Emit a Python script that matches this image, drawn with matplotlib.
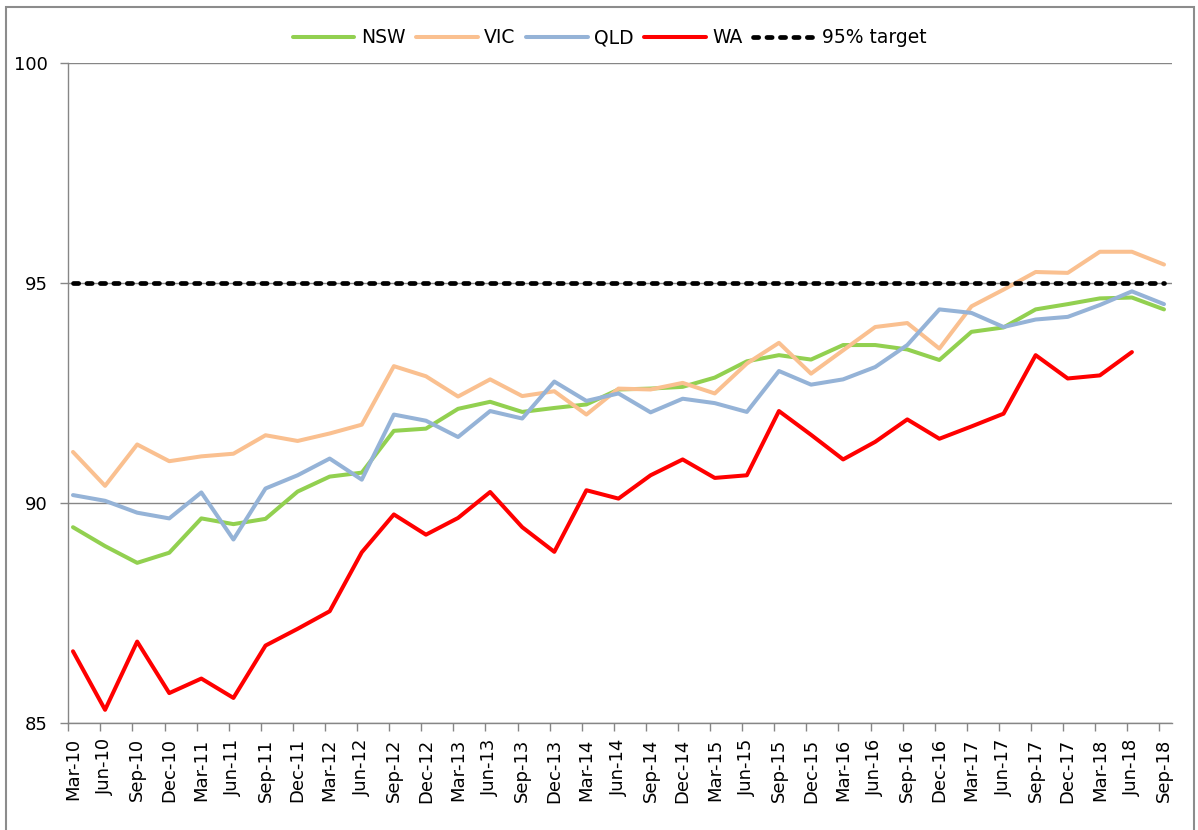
import numpy as np
import matplotlib
matplotlib.use("Agg")
import matplotlib.pyplot as plt
from matplotlib.patches import Rectangle

quarters = ["Mar-10", "Jun-10", "Sep-10", "Dec-10", "Mar-11", "Jun-11", "Sep-11", "Dec-11",
            "Mar-12", "Jun-12", "Sep-12", "Dec-12", "Mar-13", "Jun-13", "Sep-13", "Dec-13",
            "Mar-14", "Jun-14", "Sep-14", "Dec-14", "Mar-15", "Jun-15", "Sep-15", "Dec-15",
            "Mar-16", "Jun-16", "Sep-16", "Dec-16", "Mar-17", "Jun-17", "Sep-17", "Dec-17",
            "Mar-18", "Jun-18", "Sep-18"]

nsw = [89.45, 89.02, 88.64, 88.87, 89.65, 89.52, 89.64, 90.26, 90.60, 90.69, 91.64, 91.69,
       92.14, 92.30, 92.07, 92.16, 92.24, 92.58, 92.60, 92.64, 92.85, 93.22, 93.36, 93.26,
       93.59, 93.59, 93.49, 93.25, 93.89, 93.99, 94.40, 94.52, 94.65, 94.67, 94.40]
vic = [91.16, 90.39, 91.33, 90.95, 91.06, 91.12, 91.54, 91.41, 91.58, 91.78, 93.11, 92.88,
       92.42, 92.81, 92.43, 92.54, 92.01, 92.60, 92.58, 92.73, 92.49, 93.17, 93.64, 92.94,
       93.47, 94.00, 94.09, 93.51, 94.47, 94.85, 95.25, 95.23, 95.71, 95.71, 95.42]
qld = [90.18, 90.05, 89.78, 89.65, 90.24, 89.17, 90.33, 90.63, 91.01, 90.53, 92.01, 91.87,
       91.50, 92.09, 91.92, 92.76, 92.32, 92.49, 92.06, 92.37, 92.27, 92.07, 93.00, 92.69,
       92.81, 93.09, 93.59, 94.40, 94.32, 94.00, 94.17, 94.23, 94.50, 94.81, 94.52]
wa = [86.63, 85.30, 86.85, 85.68, 86.01, 85.57, 86.76, 87.14, 87.54, 88.88, 89.74, 89.28,
      89.66, 90.25, 89.45, 88.89, 90.29, 90.10, 90.63, 90.99, 90.57, 90.63, 92.09, 91.55,
      90.99, 91.39, 91.90, 91.46, 91.74, 92.03, 93.36, 92.83, 92.90, 93.43, np.nan]
target = [95.0] * len(quarters)

series_names = ["NSW", "VIC", "QLD", "WA", "95% target"]
colors = ["#92D050", "#FAC090", "#95B3D7", "#FF0000", "#000000"]

plt.rcParams['font.family'] = ['DejaVu Sans']

fig = plt.figure(figsize=(11.98, 8.30), dpi=100)
W, H = 1198, 830
ax = fig.add_axes([68.3 / W, 1 - 723 / H, (1171.7 - 68.3) / W, (723 - 63) / H])

x = np.arange(len(quarters))
grid_c = "#868686"

for vals, name, c in zip([nsw, vic, qld, wa], series_names[:4], colors[:4]):
    ax.plot(x, vals, color=c, lw=2.9, label=name, solid_joinstyle='round',
            solid_capstyle='round', zorder=3)
ax.plot(x, target, color=colors[4], lw=3.4, ls=(0, (1.1, 1.75)), label=series_names[4],
        dash_capstyle='round', zorder=4)

ax.set_ylim(85, 100)
ax.set_yticks([85, 90, 95, 100])
ax.set_xlim(-0.146, 34.24)

ax.set_xticks(x)
ax.set_xticklabels(quarters, rotation=90, fontsize=13)
ax.set_xticks(x - 0.146, minor=True)
ax.tick_params(axis='x', which='major', length=0, pad=11)
ax.tick_params(axis='x', which='minor', length=5.8, width=1, color=grid_c, direction='out')
ax.tick_params(axis='y', length=5.8, width=1, color=grid_c, direction='out', labelsize=13, pad=9)

ax.grid(axis='y', color=grid_c, lw=1, zorder=0)
ax.set_axisbelow(True)
for s in ['top', 'right']:
    ax.spines[s].set_visible(False)
for s in ['left', 'bottom']:
    ax.spines[s].set_color(grid_c)
    ax.spines[s].set_linewidth(1)

fig.legend(loc='center', bbox_to_anchor=(609.5 / W, 1 - 37.7 / H), ncol=5, frameon=False,
           fontsize=13.5, handlelength=3.3, handletextpad=0.35, columnspacing=0.55)

fig.patches.append(Rectangle((6 / W, -0.05), (1194 - 6) / W, 1.05 - 7 / H,
                             transform=fig.transFigure, fill=False, edgecolor="#8C8C8C",
                             lw=1.5))

fig.savefig("out.png", dpi=100)
